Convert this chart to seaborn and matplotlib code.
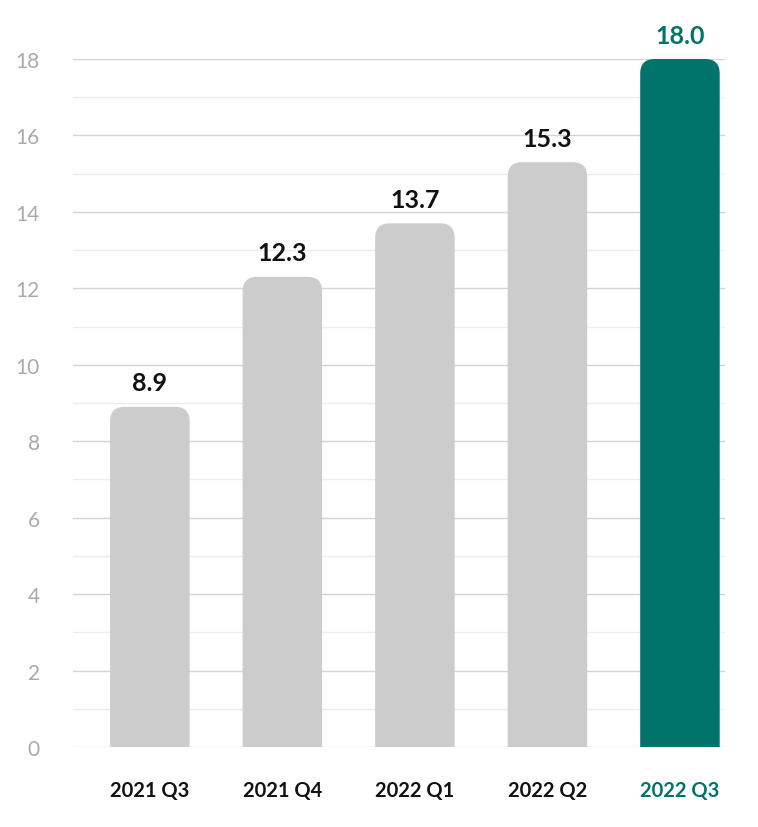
import matplotlib
matplotlib.use("Agg")
import matplotlib.pyplot as plt
import seaborn as sns
import pandas as pd
from matplotlib.patches import FancyBboxPatch
from matplotlib.ticker import MultipleLocator

quarters = ["2021 Q3", "2021 Q4", "2022 Q1", "2022 Q2", "2022 Q3"]
values = [8.9, 12.3, 13.7, 15.3, 18.0]
value_labels = ["8.9", "12.3", "13.7", "15.3", "18.0"]
y_ticks = [0, 2, 4, 6, 8, 10, 12, 14, 16, 18]

GRAY = "#cccccc"
TEAL = "#00736a"
colors = [GRAY, GRAY, GRAY, GRAY, TEAL]

sns.set_theme(style="white")
plt.rcParams["font.family"] = ["Lato", "DejaVu Sans"]

df = pd.DataFrame({"quarter": quarters, "value": values})

fig = plt.figure(figsize=(7.58, 8.28), dpi=100)
ax = fig.add_axes([73 / 758, 80 / 828, (725 - 73) / 758, (748 - 60) / 828])

sns.barplot(data=df, x="quarter", y="value", hue="quarter", palette=colors,
            legend=False, width=0.6, ax=ax, saturation=1, zorder=3)

ax.set_ylim(0, 18)
ax.set_xlim(-0.58, 4.34)

# replace bars with rounded-top versions
rx = 0.11
ry = 0.38
for p in list(ax.patches):
    x0, w, h = p.get_x(), p.get_width(), p.get_height()
    fc = p.get_facecolor()
    p.remove()
    fb = FancyBboxPatch((x0, -1.0), w, h + 1.0,
                        boxstyle=f"round,pad=0,rounding_size={rx}",
                        mutation_aspect=ry / rx, facecolor=fc, edgecolor="none",
                        zorder=3)
    ax.add_patch(fb)

for i, (v, lab) in enumerate(zip(values, value_labels)):
    ax.annotate(lab, (i, v), xytext=(0, 9), textcoords="offset points",
                ha="center", va="bottom", fontsize=18, fontweight="bold",
                color=TEAL if i == len(values) - 1 else "#111111",
                clip_on=False)

ax.set_yticks(y_ticks)
ax.yaxis.set_minor_locator(MultipleLocator(1))
ax.grid(which="major", axis="y", color="#d4d4d4", linewidth=1.0, zorder=0)
ax.grid(which="minor", axis="y", color="#ececec", linewidth=1.0, zorder=0)
ax.set_axisbelow(True)
for s in ax.spines.values():
    s.set_visible(False)

ax.tick_params(axis="y", which="both", length=0, pad=24, labelsize=15,
               labelcolor="#aaaaaa")
ax.tick_params(axis="x", length=0, pad=24, labelsize=14.5, labelcolor="#111111")
for i, t in enumerate(ax.get_xticklabels()):
    t.set_fontweight("bold")
    if i == len(quarters) - 1:
        t.set_color(TEAL)

ax.set_xlabel("")
ax.set_ylabel("")

fig.savefig("out.png", dpi=100)
